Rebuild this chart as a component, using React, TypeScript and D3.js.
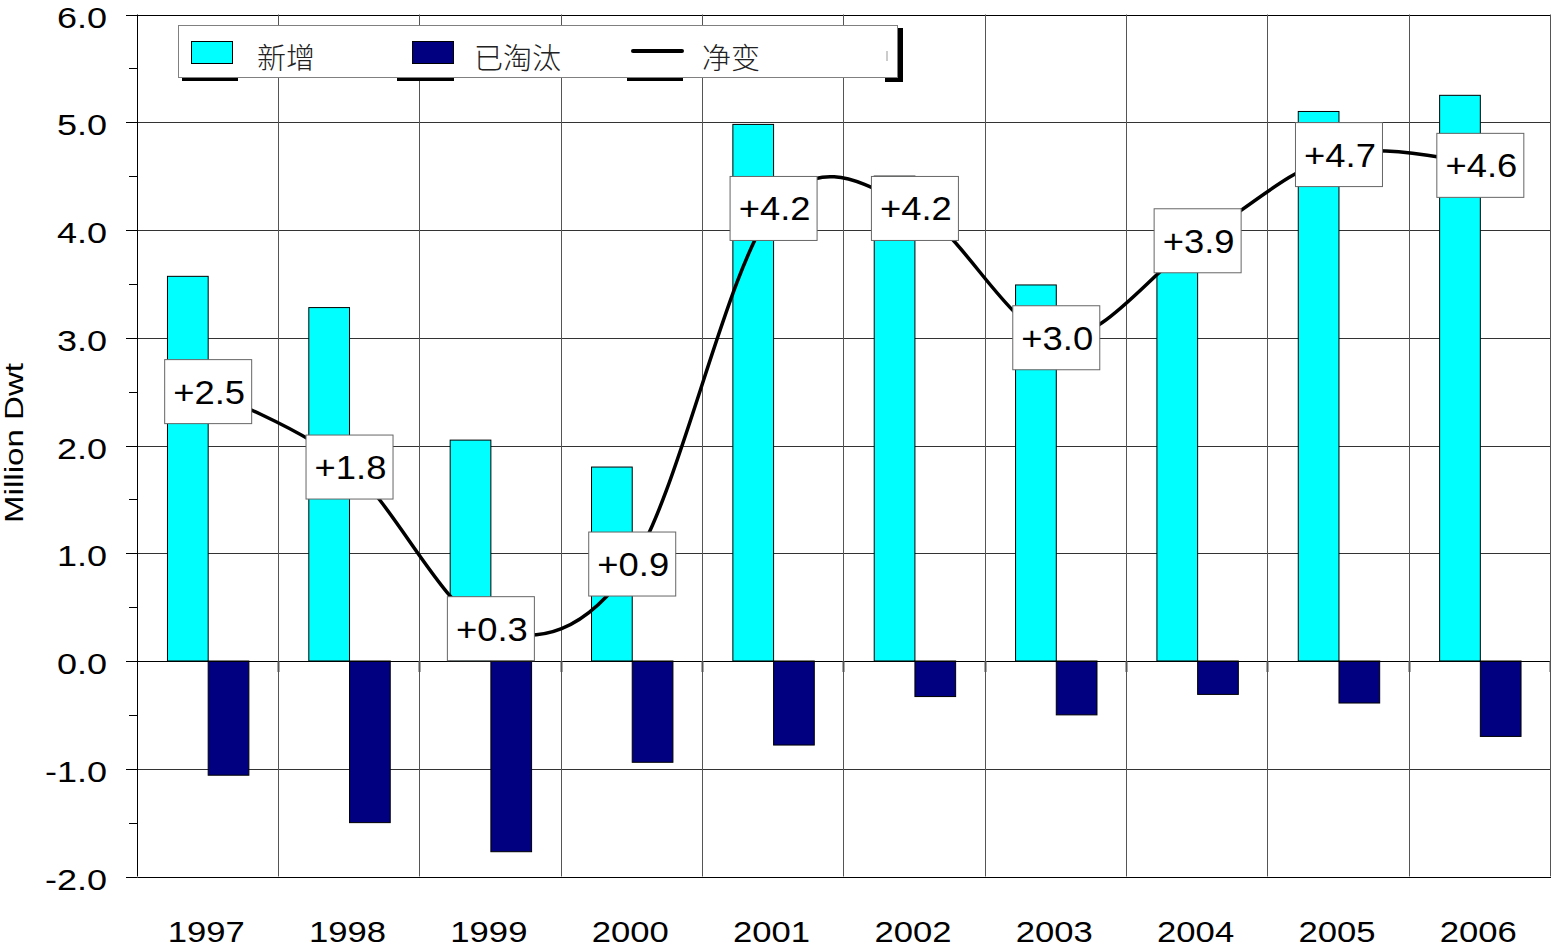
import React from "react";
import * as d3 from "d3";

// Fleet change by year, million dwt
const years = ["1997", "1998", "1999", "2000", "2001", "2002", "2003", "2004", "2005", "2006"];
const added = [3.57, 3.28, 2.05, 1.8, 4.98, 4.5, 3.49, 4.15, 5.1, 5.25];
const scrapped = [-1.06, -1.5, -1.77, -0.94, -0.78, -0.33, -0.5, -0.31, -0.39, -0.7];
const net = [2.5, 1.8, 0.3, 0.9, 4.2, 4.2, 3.0, 3.9, 4.7, 4.6];
const netLabels = ["+2.5", "+1.8", "+0.3", "+0.9", "+4.2", "+4.2", "+3.0", "+3.9", "+4.7", "+4.6"];
const yTicks = [-2, -1, 0, 1, 2, 3, 4, 5, 6];
const legendNames = ["新增", "已淘汰", "净变"];
const seriesKeys = ["added", "scrapped"];

const W = 1551;
const H = 947;
const LEFT = 137.5;
const RIGHT = 1551;
const TOP = 14.5;
const BOTTOM = 876.5;
const LATIN = "'Liberation Sans', Arial, Helvetica, sans-serif";
const CJK = "'Noto Sans CJK SC', 'Noto Sans', sans-serif";
const CYAN = "#00FFFF";
const NAVY = "#000080";

const fmtTick = (t: number) => t.toFixed(1);

export default function App() {
  const x = d3.scaleBand<string>().domain(years).range([LEFT, RIGHT]).paddingInner(0).paddingOuter(0);
  const y = d3.scaleLinear().domain([-2, 6]).range([BOTTOM, TOP]);
  const bw = x.bandwidth();
  const groupW = bw * 0.576;
  const sub = d3.scaleBand<string>().domain(seriesKeys).range([-groupW / 2, groupW / 2]).padding(0);
  const cx = (yr: string) => (x(yr) as number) + bw / 2;

  const minorTicks = d3.range(-1.5, 6, 1);
  const boundaries = d3.range(0, years.length + 1).map((i) => LEFT + bw * i);

  const lineGen = d3
    .line<number>()
    .x((_, i) => cx(years[i]))
    .y((d) => y(d))
    .curve(d3.curveCardinal.tension(0));

  const boxW = 87;
  const boxH = 64;

  return (
    <svg
      width={W}
      height={H}
      viewBox={`0 0 ${W} ${H}`}
      style={{ position: "absolute", left: 0, top: 0, background: "#fff", display: "block" }}
    >
      <rect x={0} y={0} width={W} height={H} fill="#fff" />

      {/* horizontal gridlines */}
      {yTicks.map((t) => (
        <line key={"h" + t} x1={LEFT} x2={RIGHT} y1={Math.round(y(t)) + 0.5} y2={Math.round(y(t)) + 0.5} stroke={t === 6 || t === -2 ? "#000" : "#333"} strokeWidth={1} />
      ))}
      {/* vertical gridlines at category boundaries */}
      {boundaries.slice(1).map((bx, i) => (
        <line key={"v" + i} x1={Math.round(bx) - 0.5} x2={Math.round(bx) - 0.5} y1={TOP} y2={BOTTOM} stroke="#555" strokeWidth={1} />
      ))}

      {/* bars */}
      {years.map((yr, i) => {
        const c = cx(yr);
        const x0 = c + (sub("added") as number);
        const x1 = c + (sub("scrapped") as number);
        return (
          <g key={"b" + yr}>
            <rect x={x0} y={y(added[i])} width={sub.bandwidth()} height={y(0) - y(added[i])} fill={CYAN} stroke="#000" strokeWidth={1} />
            <rect x={x1} y={y(0)} width={sub.bandwidth()} height={y(scrapped[i]) - y(0)} fill={NAVY} stroke="#000" strokeWidth={1} />
          </g>
        );
      })}

      {/* zero line and category ticks */}
      <line x1={LEFT - 11} x2={RIGHT} y1={Math.round(y(0)) + 0.5} y2={Math.round(y(0)) + 0.5} stroke="#000" strokeWidth={1} />
      {boundaries.slice(1).map((bx, i) => (
        <line key={"ct" + i} x1={Math.round(bx) - 0.5} x2={Math.round(bx) - 0.5} y1={y(0)} y2={y(0) + 11} stroke="#555" strokeWidth={2} />
      ))}

      {/* net change curve */}
      <path d={lineGen(net) || ""} fill="none" stroke="#000" strokeWidth={3.5} strokeLinejoin="round" />

      {/* value labels */}
      {years.map((yr, i) => {
        const c = cx(yr);
        const cy = y(net[i]);
        return (
          <g key={"l" + yr}>
            <rect x={c - boxW / 2} y={cy - boxH / 2} width={boxW} height={boxH} fill="#fff" stroke="#666" strokeWidth={1} />
            <text
              transform={`translate(${c + 1},${cy + 12}) scale(1.07,1)`}
              textAnchor="middle"
              fontFamily={LATIN}
              fontSize={34}
              fill="#000"
            >
              {netLabels[i]}
            </text>
          </g>
        );
      })}

      {/* y axis */}
      <line x1={LEFT} x2={LEFT} y1={TOP} y2={BOTTOM} stroke="#000" strokeWidth={1} />
      {yTicks.map((t) => (
        <g key={"yt" + t}>
          <line x1={126} x2={LEFT} y1={Math.round(y(t)) + 0.5} y2={Math.round(y(t)) + 0.5} stroke="#000" strokeWidth={1} />
          <text
            transform={`translate(107,${y(t) + 13}) scale(1.2,1)`}
            textAnchor="end"
            fontFamily={LATIN}
            fontSize={30}
            fill="#000"
          >
            {fmtTick(t)}
          </text>
        </g>
      ))}
      {minorTicks.map((t) => (
        <line key={"mt" + t} x1={129} x2={LEFT} y1={Math.round(y(t)) + 0.5} y2={Math.round(y(t)) + 0.5} stroke="#000" strokeWidth={1} />
      ))}

      {/* x axis labels */}
      {years.map((yr) => (
        <text
          key={"xl" + yr}
          transform={`translate(${cx(yr) - 2},942) scale(1.155,1)`}
          textAnchor="middle"
          fontFamily={LATIN}
          fontSize={30}
          fill="#000"
        >
          {yr}
        </text>
      ))}

      {/* y axis title */}
      <text
        transform="translate(23,443) rotate(-90)"
        textAnchor="middle"
        fontFamily={LATIN}
        fontSize={26}
        textLength={160}
        lengthAdjust="spacingAndGlyphs"
        fill="#000"
      >
        Million Dwt
      </text>

      {/* legend */}
      <g>
        <rect x={182} y={77} width={56} height={4} fill="#000" />
        <rect x={397} y={77} width={57} height={4} fill="#000" />
        <rect x={627} y={77} width={56} height={4} fill="#000" />
        <rect x={898} y={28} width={5} height={54} fill="#000" />
        <rect x={885} y={77} width={18} height={5} fill="#000" />
        <rect x={178.5} y={25.5} width={719} height={52} fill="#fff" stroke="#808080" strokeWidth={1} />
        <rect x={191.5} y={41.5} width={41} height={22} fill={CYAN} stroke="#000" strokeWidth={1} />
        <rect x={412.5} y={41.5} width={41} height={22} fill={NAVY} stroke="#000" strokeWidth={1} />
        <line x1={633} x2={682} y1={51} y2={51} stroke="#000" strokeWidth={4} strokeLinecap="round" />
        <rect x={886} y={51} width={2} height={10} fill="#ccc" />
        {[257, 474, 702].map((lx, i) => (
          <text key={"lg" + i} x={lx} y={69} fontFamily={CJK} fontWeight={300} fontSize={29} fill="#222">
            {legendNames[i]}
          </text>
        ))}
      </g>
    </svg>
  );
}
